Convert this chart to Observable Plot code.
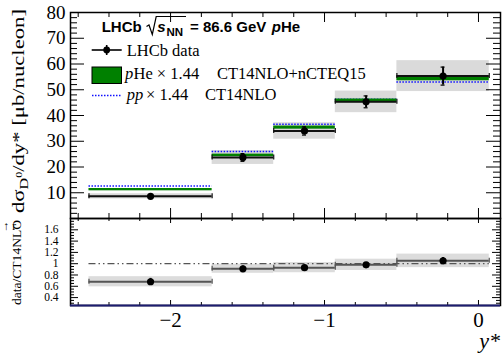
<!DOCTYPE html>
<html>
<head>
<meta charset="utf-8">
<script src="https://cdn.jsdelivr.net/npm/d3@7"></script>
<script src="https://cdn.jsdelivr.net/npm/@observablehq/plot@0.6"></script>
<style>
  html, body { margin: 0; padding: 0; background: white; }
  #chart { position: relative; width: 503px; height: 355px; overflow: hidden; }
  #chart svg { display: block; }
</style>
</head>
<body>
<div id="chart"></div>
<script>
// ---- data ----
const binLo = [-2.53, -1.73, -1.33, -0.93, -0.53];
const binHi = [-1.73, -1.33, -0.93, -0.53, 0.07];
const yStar = [-2.13, -1.53, -1.13, -0.73, -0.23];
const dataVal = [8.6, 23.7, 34.0, 45.3, 55.3];
const statErr = [0.6, 1.5, 1.6, 2.3, 3.5];
const systErr = [1.0, 2.7, 3.2, 4.2, 6.0];
const pHeTheory = [11.2, 24.5, 35.3, 45.7, 54.4];
const pHeTheoryErr = [0.45, 0.5, 0.6, 0.7, 0.9];
const ppTheory = [12.6, 26.0, 36.6, 46.3, 53.0];
const ratioVal = [0.68, 0.91, 0.93, 0.98, 1.05];
const ratioStat = [0.06, 0.05, 0.04, 0.04, 0.06];
const ratioSyst = [0.09, 0.08, 0.09, 0.10, 0.12];
const yTickLabels = [10, 20, 30, 40, 50, 60, 70, 80];
const ratioTickLabels = [0.4, 0.6, 0.8, 1, 1.2, 1.4, 1.6];
const xTickLabels = [-2, -1, 0];

const rows = yStar.map((c, i) => ({
  lo: binLo[i], hi: binHi[i], c,
  v: dataVal[i], stat: statErr[i], syst: systErr[i],
  phe: pHeTheory[i], pheErr: pHeTheoryErr[i], pp: ppTheory[i],
  r: ratioVal[i], rs: ratioStat[i], rsy: ratioSyst[i]
}));

// ---- layout ----
const W = 503, ML = 70, MR = 3;
const innerW = W - ML - MR;
const xDomain = [-2.65, 0.143];
const topH = 218, topMT = 12, topInnerH = topH - topMT;
const botH = 137, botMB = 50, botInnerH = botH - botMB;
const serif = "Liberation Serif";

const xMinorOnly = d3.range(-2.6, 0.15, 0.2).map(d => +d.toFixed(2)).filter(d => Math.abs(d - Math.round(d)) > 1e-6);

function xTicks(innerH, majLen, minLen) {
  return [
    Plot.tickX(xTickLabels, {x: d => d, insetTop: innerH - majLen, stroke: "black", strokeWidth: 1}),
    Plot.tickX(xTickLabels, {x: d => d, insetBottom: innerH - majLen, stroke: "black", strokeWidth: 1}),
    Plot.tickX(xMinorOnly, {x: d => d, insetTop: innerH - minLen, stroke: "black", strokeWidth: 1}),
    Plot.tickX(xMinorOnly, {x: d => d, insetBottom: innerH - minLen, stroke: "black", strokeWidth: 1})
  ];
}
function yTicks(major, minor, majLen, minLen) {
  return [
    Plot.tickY(major, {y: d => d, insetRight: innerW - majLen, stroke: "black"}),
    Plot.tickY(major, {y: d => d, insetLeft: innerW - majLen, stroke: "black"}),
    Plot.tickY(minor, {y: d => d, insetRight: innerW - minLen, stroke: "black"}),
    Plot.tickY(minor, {y: d => d, insetLeft: innerW - minLen, stroke: "black"})
  ];
}

const topMajor = [0, ...yTickLabels];
const topMinor = d3.range(0, 81, 2).filter(d => d % 10 !== 0);

const topPlot = Plot.plot({
  width: W, height: topH,
  marginTop: topMT, marginBottom: 0, marginLeft: ML, marginRight: MR,
  x: {domain: xDomain, axis: null},
  y: {domain: [0, 80], axis: null},
  style: {fontFamily: serif, background: "white", overflow: "visible"},
  marks: [
    Plot.rect(rows, {x1: "lo", x2: "hi", y1: d => d.v - d.syst, y2: d => d.v + d.syst, fill: "#dadada"}),
    Plot.ruleY(rows, {x1: "lo", x2: "hi", y: "pp", stroke: "#1010ff", strokeWidth: 1.6, strokeDasharray: "1.5,1.5"}),
    Plot.rect(rows, {x1: "lo", x2: "hi", y1: d => d.phe - d.pheErr, y2: d => d.phe + d.pheErr, fill: "#008000"}),
    Plot.ruleY(rows, {x1: "lo", x2: "hi", y: "v", stroke: "#111", strokeWidth: 2}),
    Plot.ruleX(rows, {x: "lo", y1: "v", y2: "v", insetTop: -2.5, insetBottom: -2.5, stroke: "#111", strokeWidth: 1.2}),
    Plot.ruleX(rows, {x: "hi", y1: "v", y2: "v", insetTop: -2.5, insetBottom: -2.5, stroke: "#111", strokeWidth: 1.2}),
    Plot.ruleX(rows, {x: "c", y1: d => d.v - d.stat, y2: d => d.v + d.stat, stroke: "black", strokeWidth: 2}),
    Plot.ruleY(rows, {x1: "c", x2: "c", y: d => d.v + d.stat, insetLeft: -2, insetRight: -2, stroke: "black", strokeWidth: 1.2}),
    Plot.ruleY(rows, {x1: "c", x2: "c", y: d => d.v - d.stat, insetLeft: -2, insetRight: -2, stroke: "black", strokeWidth: 1.2}),
    Plot.dot(rows, {x: "c", y: "v", r: 3.6, fill: "black", stroke: "none"}),
    ...yTicks(topMajor, topMinor, 14, 7),
    ...xTicks(topInnerH, 10, 5),
    Plot.axisY(yTickLabels, {tickSize: 0, tickPadding: 5, fontSize: 19, fontFamily: serif}),
    Plot.frame({stroke: "black", strokeWidth: 1.5})
  ]
});

const ratioMajor = [0.4, 0.6, 0.8, 1, 1.2, 1.4, 1.6];
const ratioMinor = d3.range(0.3, 1.8, 0.05).map(d => +d.toFixed(2)).filter(d => !ratioMajor.some(m => Math.abs(m - d) < 1e-6));

const bottomPlot = Plot.plot({
  width: W, height: botH,
  marginTop: 0, marginBottom: botMB, marginLeft: ML, marginRight: MR,
  x: {domain: xDomain, axis: null},
  y: {domain: [0.26, 1.8], axis: null},
  style: {fontFamily: serif, background: "white", overflow: "visible"},
  marks: [
    Plot.rect(rows, {x1: "lo", x2: "hi", y1: d => d.r - d.rsy, y2: d => d.r + d.rsy, fill: "#dcdcdc"}),
    Plot.ruleY([1], {x1: binLo[0], x2: binHi[binHi.length - 1], stroke: "#555", strokeWidth: 1.2, strokeDasharray: "7,3,1.5,3,1.5,3"}),
    Plot.ruleY(rows, {x1: "lo", x2: "hi", y: "r", stroke: "#555", strokeWidth: 2}),
    Plot.ruleX(rows, {x: "lo", y1: "r", y2: "r", insetTop: -2.5, insetBottom: -2.5, stroke: "#555", strokeWidth: 1.2}),
    Plot.ruleX(rows, {x: "hi", y1: "r", y2: "r", insetTop: -2.5, insetBottom: -2.5, stroke: "#555", strokeWidth: 1.2}),
    Plot.ruleX(rows, {x: "c", y1: d => d.r - d.rs, y2: d => d.r + d.rs, stroke: "black", strokeWidth: 2}),
    Plot.dot(rows, {x: "c", y: "r", r: 3.6, fill: "black", stroke: "none"}),
    ...yTicks(ratioMajor, ratioMinor, 8, 4),
    ...xTicks(botInnerH, 5, 3),
    Plot.axisY(ratioTickLabels, {tickSize: 0, tickPadding: 12, fontSize: 11.5, fontFamily: serif, tickFormat: d => String(d)}),
    Plot.axisX(xTickLabels, {tickSize: 0, tickPadding: 7, fontSize: 21, fontFamily: serif, tickFormat: d3.format("d")}),
    Plot.frame({stroke: "black", strokeWidth: 1.5}),
    Plot.ruleY([0.26], {stroke: "#1c1c70", strokeWidth: 2})
  ]
});

const chart = document.getElementById("chart");
chart.appendChild(topPlot);
chart.appendChild(bottomPlot);

// ---- titles & legend ----
const st = d3.select(topPlot);
const addText = (sel, x, y, txt, opts = {}) => sel.append("text")
  .attr("x", x).attr("y", y)
  .attr("text-anchor", opts.anchor || "start")
  .attr("font-family", opts.family || serif)
  .attr("font-size", opts.size || 16.5)
  .attr("font-weight", opts.weight || "normal")
  .attr("font-style", opts.style || "normal")
  .attr("fill", "black")
  .text(txt);

// y-axis title (top panel)
const yt = st.append("text")
  .attr("transform", "translate(24,9) rotate(-90)")
  .attr("text-anchor", "end")
  .attr("font-family", serif).attr("font-size", 17)
  .attr("textLength", 204).attr("lengthAdjust", "spacingAndGlyphs");
yt.append("tspan").text("dσ");
yt.append("tspan").attr("dy", 4).attr("font-size", 12).text("D");
yt.append("tspan").attr("dy", -6).attr("font-size", 9).text("0");
yt.append("tspan").attr("dy", 2).text("/dy* [μb/nucleon]");

// header
const sans = "Liberation Sans";
addText(st, 101.7, 32, "LHCb", {family: sans, weight: "bold", size: 15});
st.append("path").attr("d", "M146.5,26.5 L149,25 L152.3,34.5 L156.2,16.5 L186,16.5")
  .attr("fill", "none").attr("stroke", "black").attr("stroke-width", 1.2);
addText(st, 157.3, 32, "s", {family: sans, weight: "bold", style: "italic", size: 15});
addText(st, 166.5, 35.5, "NN", {family: sans, weight: "bold", size: 11.5});
addText(st, 190, 32, "= 86.6 GeV", {family: sans, weight: "bold", size: 15});
addText(st, 271.7, 32, "p", {family: sans, weight: "bold", style: "italic", size: 15});
addText(st, 281, 32, "He", {family: sans, weight: "bold", size: 15});

// legend entry 1: data
st.append("line").attr("x1", 91.7).attr("x2", 121.7).attr("y1", 50).attr("y2", 50).attr("stroke", "black").attr("stroke-width", 1.6);
st.append("line").attr("x1", 106.7).attr("x2", 106.7).attr("y1", 45).attr("y2", 55).attr("stroke", "black").attr("stroke-width", 1.6);
st.append("circle").attr("cx", 106.7).attr("cy", 50).attr("r", 3.4).attr("fill", "black");
addText(st, 126.7, 55.7, "LHCb data");
// legend entry 2: pHe
st.append("rect").attr("x", 92).attr("y", 67).attr("width", 29.5).attr("height", 16.5).attr("fill", "#008000").attr("stroke", "black").attr("stroke-width", 1);
addText(st, 125, 79, "p", {style: "italic"});
addText(st, 133.5, 79, "He × 1.44");
addText(st, 217, 79, "CT14NLO+nCTEQ15");
// legend entry 3: pp
st.append("line").attr("x1", 92).attr("x2", 121).attr("y1", 95.5).attr("y2", 95.5).attr("stroke", "#1010ff").attr("stroke-width", 1.3).attr("stroke-dasharray", "1.5,1.5");
addText(st, 126.7, 100, "pp", {style: "italic"});
addText(st, 146, 100, "× 1.44");
addText(st, 205, 100, "CT14NLO");

// bottom panel titles
const sb = d3.select(bottomPlot);
sb.append("text")
  .attr("transform", "translate(21,2) rotate(-90)")
  .attr("text-anchor", "end")
  .attr("font-family", serif).attr("font-size", 12)
  .attr("textLength", 85).attr("lengthAdjust", "spacingAndGlyphs")
  .text("data/CT14NLO");
addText(sb, 500, 130, "y*", {anchor: "end", style: "italic", size: 22});
</script>
</body>
</html>
